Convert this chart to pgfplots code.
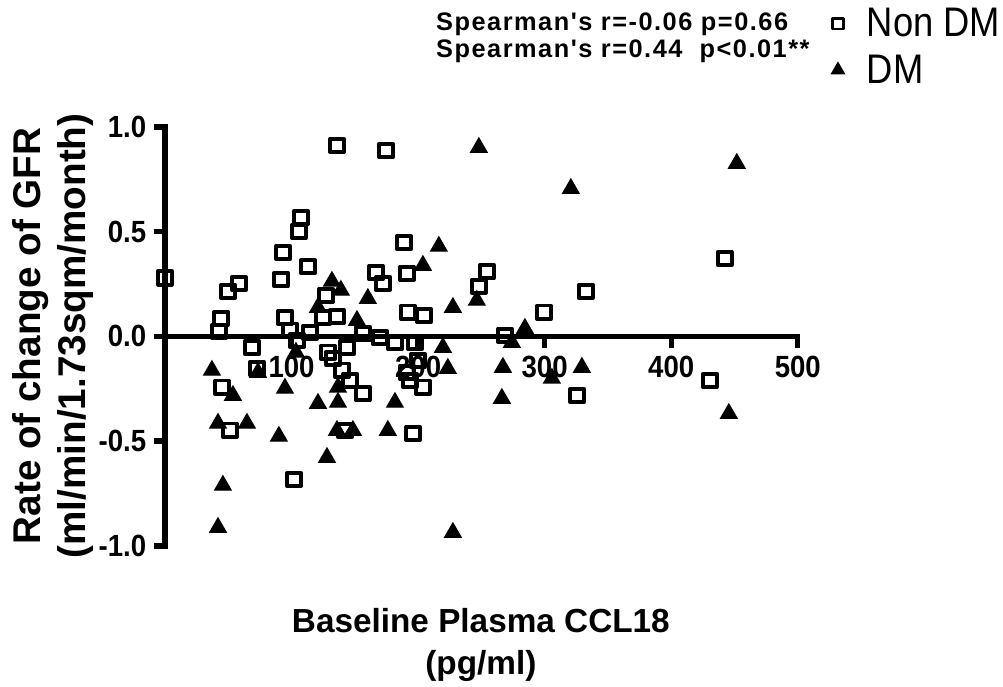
\documentclass[border=0pt]{standalone}
\usepackage{fontspec}
\setmainfont{Liberation Sans}
\usepackage{pgfplots}
\pgfplotsset{compat=1.18}

% Baseline plasma CCL18 (pg/ml) vs. rate of change of GFR
\pgfplotstableread{
x      y
0      0.280
44.2   0.086
42.7   0.024
49.8   0.215
58.5   0.253
68.7  -0.053
72.7  -0.153
45.0  -0.243
51.3  -0.448
93.2   0.401
91.6   0.272
94.8   0.091
101.9 -0.683
107.4  0.568
105.8  0.501
113.0  0.334
98.7   0.029
104.3 -0.019
114.5  0.019
124.8  0.091
135.9  0.095
127.2  0.196
135.9  0.912
174.6  0.888
188.8  0.449
166.7  0.305
172.2  0.253
191.2  0.301
191.9  0.115
204.6  0.100
156.4  0.014
169.8 -0.005
181.7 -0.029
197.5 -0.029
128.8 -0.076
143.8 -0.053
132.7 -0.105
139.8 -0.162
146.1 -0.210
156.4 -0.272
142.2 -0.449
195.9 -0.463
191.2 -0.172
193.5 -0.210
199.8 -0.115
203.8 -0.243
254.3  0.310
248.0  0.239
268.6  0.005
299.4  0.115
332.5  0.215
325.4 -0.282
442.3  0.372
430.5 -0.210
}\nondm

\pgfplotstableread{
x      y
248.0  0.902
320.7  0.706
451.8  0.826
216.4  0.430
203.8  0.339
246.4  0.172
227.5  0.138
131.9  0.263
139.0  0.220
160.3  0.181
120.9  0.138
151.7  0.076
284.4  0.038
274.1 -0.029
219.6 -0.053
223.5 -0.153
267.0 -0.148
266.2 -0.296
305.7 -0.200
329.4 -0.148
445.5 -0.368
37.1  -0.162
73.5  -0.172
53.7  -0.282
94.8  -0.248
120.9 -0.320
136.7 -0.315
181.7 -0.315
136.7 -0.243
41.9  -0.415
64.8  -0.415
90.0  -0.477
135.9 -0.449
148.5 -0.449
176.1 -0.449
128.0 -0.578
45.8  -0.711
41.9  -0.912
227.5 -0.936
103.5 -0.076
}\dm

\begin{document}
\begin{tikzpicture}
\begin{scope}[x=0.75pt,y=-0.75pt]
  \path[use as bounding box] (0,0) rectangle (1003,680);
\end{scope}

\begin{axis}[
  at={(123.75pt,-409.5pt)}, anchor=south west,
  width=474.75pt, height=314.25pt, scale only axis,
  xmin=0, xmax=500, ymin=-1, ymax=1,
  axis x line=middle, axis y line=left,
  axis line style={line width=4pt, -, line cap=rect},
  every tick/.style={line width=4pt, black},
  major tick length=8.5pt,
  tick align=outside,
  xtick={100,200,300,400,500},
  ytick={-1,-0.5,0,0.5,1},
  /pgf/number format/assume math mode=true,
  yticklabel={\pgfmathprintnumber[fixed,fixed zerofill,precision=1]{\tick}},
  ticklabel style={font=\bfseries\fontsize{23}{23}\selectfont\addfontfeature{FakeStretch=0.9}},
  xticklabel style={yshift=-3pt},
  yticklabel style={xshift=-2pt},
  clip=false,
  legend style={at={(1.053,1.290)}, anchor=north west, draw=none, fill=none,
    inner sep=0pt, font=\fontsize{31}{31}\selectfont\addfontfeature{FakeStretch=0.88},
    row sep=8pt, nodes={inner xsep=2pt}},
  legend cell align=left,
]
\addplot[only marks, mark=square, mark size=5.1pt, line width=2.9pt,
  line join=round, black,
  legend image post style={mark size=4pt, line width=2.2pt}]
  table[x=x,y=y] {\nondm};
\addlegendentry{\hspace{15pt}Non DM}
\addplot[only marks, mark=triangle*, mark size=7pt, line width=1pt,
  black, fill=black,
  legend image post style={mark size=5.5pt}]
  table[x=x,y=y] {\dm};
\addlegendentry{\hspace{15pt}DM}
\end{axis}

\begin{scope}[x=0.75pt,y=-0.75pt,
  every node/.style={anchor=base west, inner sep=0pt,
    font=\bfseries\fontsize{19}{19}\selectfont\addfontfeature{LetterSpace=6,Ligatures=TeXOff}}]
  \node at (436,31) {Spearman's r=-0.06 p=0.66};
  \node at (436,58) {Spearman's r=0.44\ \ p<0.01**};
\end{scope}
\begin{scope}[x=0.75pt,y=-0.75pt]
  \node[rotate=90, align=center,
    font=\bfseries\fontsize{29}{34}\selectfont]
    at (53,336) {Rate of change of GFR\\(ml/min/1.73sqm/month)};
  \node[align=center,
    font=\bfseries\fontsize{25}{32}\selectfont]
    at (481,645) {Baseline Plasma CCL18\\(pg/ml)};
\end{scope}
\end{tikzpicture}
\end{document}
